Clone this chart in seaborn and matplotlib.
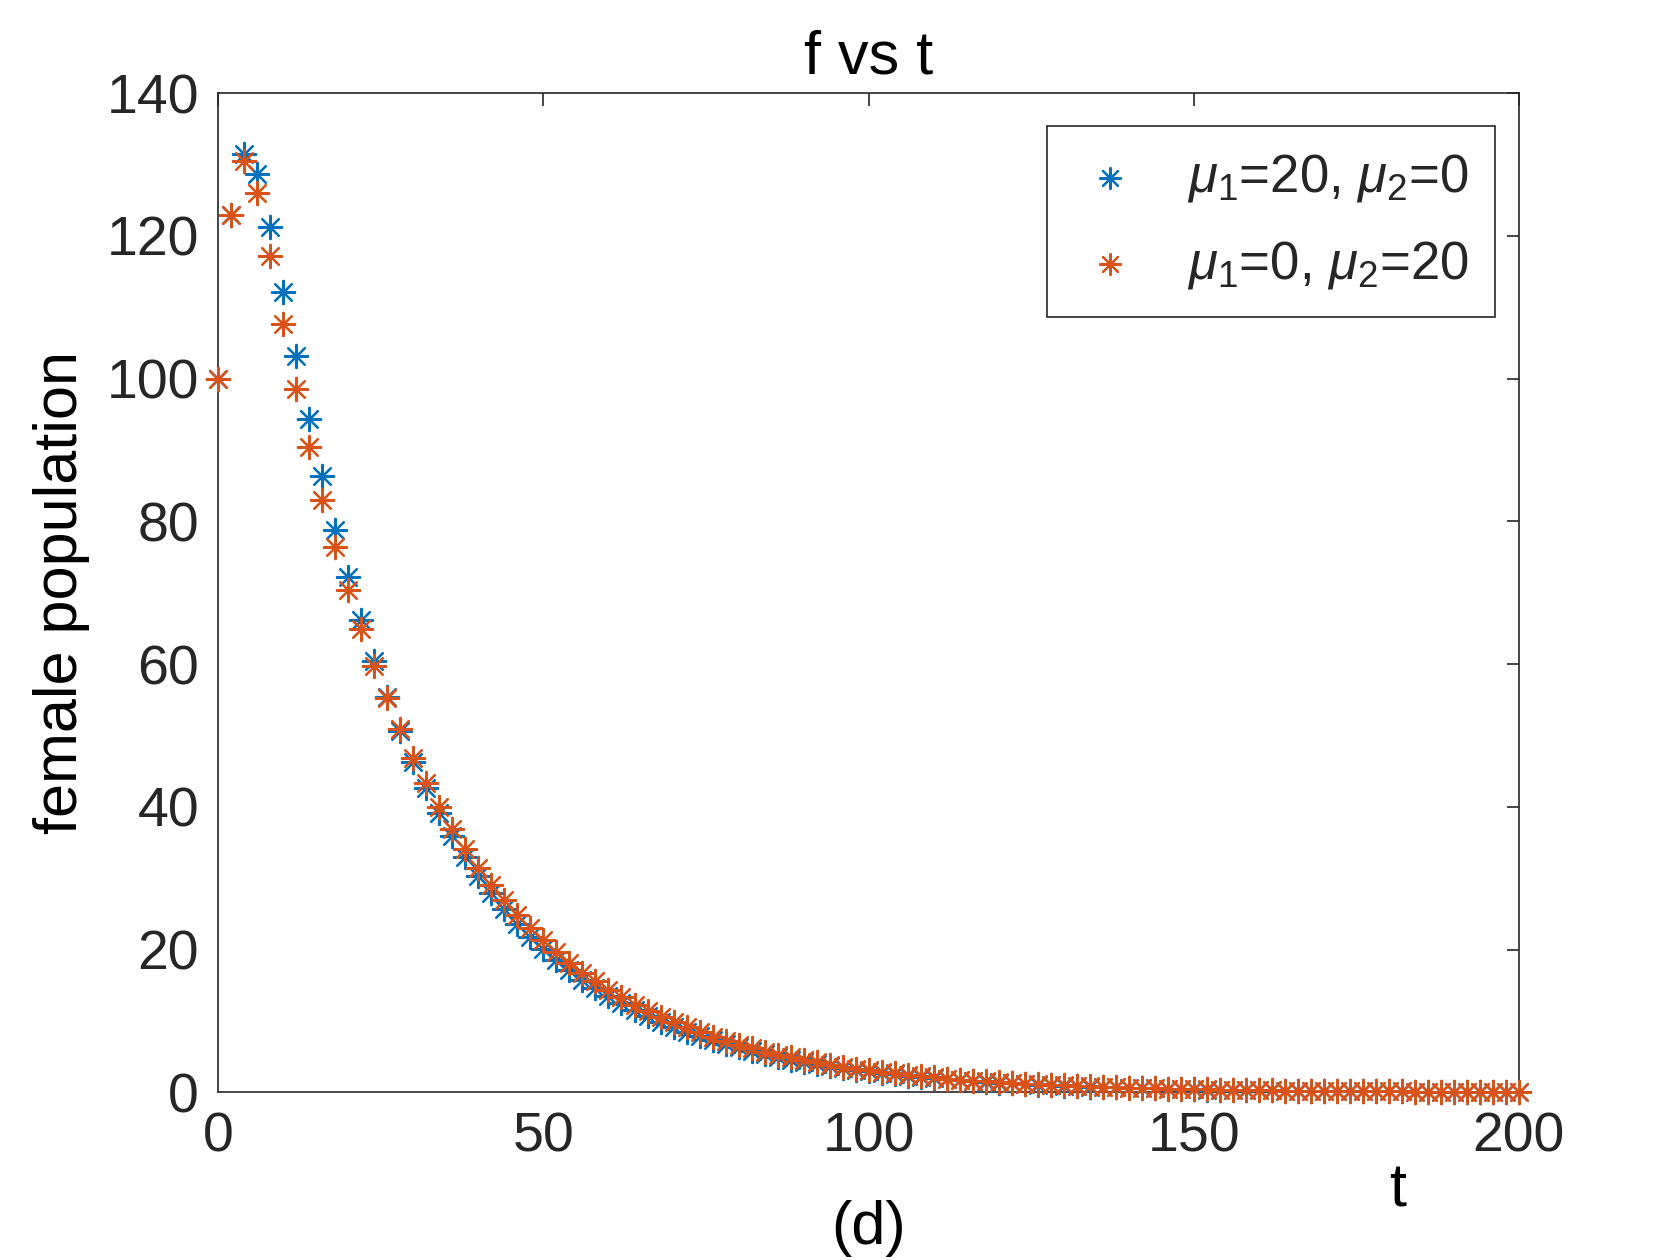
import matplotlib
matplotlib.use("Agg")
import matplotlib.pyplot as plt
import seaborn as sns
import numpy as np
import pandas as pd

t = list(range(0, 201, 2))

f_mu1_20 = [100, 123, 131.5, 128.7, 121.2, 112.2, 103.2, 94.4, 86.3, 78.8,
            72.2, 66.2, 60.5, 55.4, 50.7, 46.3, 42.6, 39.1, 35.9, 33.0,
            30.3, 27.9, 25.7, 23.6, 21.8, 20.1, 18.5, 17.1, 15.8, 14.6,
            13.5, 12.5, 11.5, 10.7, 9.9, 9.2, 8.5, 7.9, 7.3, 6.8,
            6.3, 5.8, 5.4, 5.0, 4.6, 4.3, 4.0, 3.7, 3.4, 3.2,
            2.95, 2.75, 2.55, 2.35, 2.2, 2.0, 1.87, 1.73, 1.6, 1.48,
            1.37, 1.27, 1.18, 1.09, 1.01, 0.93, 0.86, 0.8, 0.74, 0.69,
            0.64, 0.59, 0.55, 0.51, 0.47, 0.44, 0.4, 0.37, 0.34, 0.32,
            0.29, 0.27, 0.25, 0.23, 0.21, 0.2, 0.18, 0.17, 0.16, 0.15,
            0.14, 0.13, 0.12, 0.11, 0.1, 0.09, 0.085, 0.08, 0.075, 0.07,
            0.065]

f_mu2_20 = [100, 123, 130.5, 126, 117.2, 107.7, 98.6, 90.5, 83, 76.4,
            70.4, 65, 59.8, 55.3, 50.9, 46.9, 43.3, 40, 36.9, 34.1,
            31.5, 29.1, 26.9, 24.9, 23, 21.3, 19.7, 18.2, 16.8, 15.6,
            14.4, 13.3, 12.3, 11.4, 10.6, 9.8, 9.1, 8.4, 7.8, 7.2,
            6.7, 6.2, 5.7, 5.3, 4.9, 4.5, 4.2, 3.9, 3.6, 3.3,
            3.1, 2.9, 2.7, 2.5, 2.3, 2.1, 1.95, 1.8, 1.67, 1.55,
            1.43, 1.32, 1.22, 1.13, 1.05, 0.97, 0.9, 0.83, 0.77, 0.71,
            0.66, 0.61, 0.56, 0.52, 0.48, 0.45, 0.41, 0.38, 0.35, 0.33,
            0.3, 0.28, 0.26, 0.24, 0.22, 0.21, 0.19, 0.18, 0.16, 0.15,
            0.14, 0.13, 0.12, 0.11, 0.10, 0.095, 0.088, 0.081, 0.075, 0.07,
            0.065]

labels = [r'$\mu_1$=20, $\mu_2$=0', r'$\mu_1$=0, $\mu_2$=20']
colors = ['#0072BD', '#D95319']
x_ticks = [0, 50, 100, 150, 200]
y_ticks = [0, 20, 40, 60, 80, 100, 120, 140]

sns.set_theme(style="white")
plt.rcParams['font.family'] = ['Liberation Sans', 'DejaVu Sans']
plt.rcParams['mathtext.fontset'] = 'custom'
plt.rcParams['mathtext.rm'] = 'Liberation Sans'
plt.rcParams['mathtext.it'] = 'Liberation Sans:italic'

FS = 40
LFS = 44

fig = plt.figure(figsize=(16.8, 12.6), dpi=100)
ax = fig.add_axes([0.130, 0.133, 0.774, 0.793])

ast = (8, 2, 0)
for ys, lab, col in zip([f_mu1_20, f_mu2_20], labels, colors):
    df = pd.DataFrame({'t': t, 'f': ys})
    sns.scatterplot(data=df, x='t', y='f', ax=ax, marker=ast, s=280,
                    color=col, edgecolor=col, linewidth=1.6, label=lab,
                    clip_on=False, zorder=3)

ax.set_xlim(0, 200)
ax.set_ylim(0, 140)
ax.set_xticks(x_ticks)
ax.set_yticks(y_ticks)
ax.tick_params(direction='in', length=9, width=1.2, top=True, right=True,
               labelsize=FS, colors='#262626', pad=14)
for sp in ax.spines.values():
    sp.set_color('#262626')
    sp.set_linewidth(1.2)
    sp.set_visible(True)

ax.set_title('f vs t', fontsize=LFS, color='black', pad=14)
ax.set_ylabel('female population', fontsize=LFS, color='black', labelpad=12)
ax.set_xlabel('(d)', fontsize=LFS, color='black', labelpad=26)
fig.text(0.832, 0.055, 't', fontsize=LFS, ha='center', va='center', color='black')

leg = ax.legend(loc='upper right', bbox_to_anchor=(0.8897, 0.900),
                bbox_transform=fig.transFigure, fontsize=38, frameon=True,
                fancybox=False, framealpha=1, edgecolor='#262626',
                borderaxespad=0, handletextpad=0.75, borderpad=0.5,
                labelspacing=0.65, markerscale=0.9, handlelength=1.4)
leg.get_frame().set_linewidth(1.2)

fig.savefig('out.png', dpi=100, facecolor='white')
